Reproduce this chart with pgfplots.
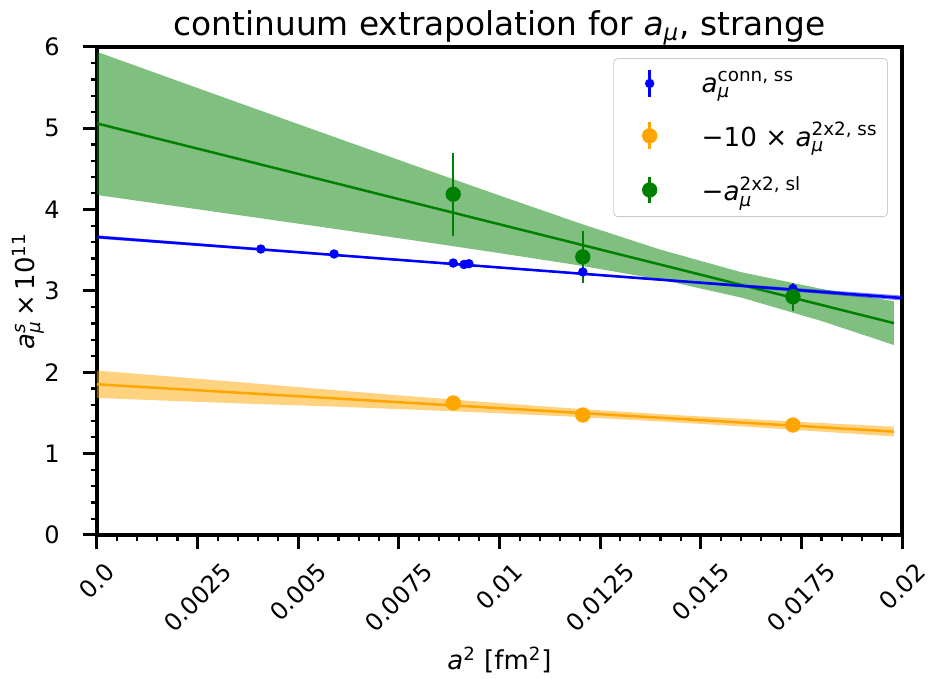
\documentclass[border=0pt]{standalone}
\usepackage{fontspec}
\setmainfont{DejaVu Sans}
\usepackage{amsmath}
\usepackage{graphicx}
\usepackage{pgfplots}
\pgfplotsset{compat=1.18}
\definecolor{mplblue}{HTML}{0000FF}
\definecolor{mplorange}{HTML}{FFA500}
\definecolor{mplgreen}{HTML}{008000}
\newcommand{\am}{\textit{a}}
\newcommand{\mus}{\text{\itshape μ}}
\newcommand{\rl}[1]{\rotatebox{45}{#1}}
\pgfplotsset{
  fitline/.style={line width=1.25pt},
  band/.style={draw=none, fill opacity=0.5},
  pts/.style={only marks, mark=*, line width=1.25pt,
    error bars/y dir=both, error bars/y explicit, error bars/error mark=none,
    error bars/error bar style={line width=1.25pt}},
  errleg/.style 2 args={legend image code/.code={
    \path[draw=none] (0,0) -- (39pt,0);
    \draw[#1, line width=1.25pt] (15pt,-6.7pt) -- (15pt,6.7pt);
    \fill[#1] (15pt,0) circle (#2);}},
}
\begin{document}
\begin{tikzpicture}
\useasboundingbox (-48.5pt,-72pt) rectangle (415.5pt,267.5pt);
\begin{axis}[
  at={(0,0)}, anchor=south west,
  width=402.5pt, height=244pt, scale only axis,
  xmin=0, xmax=0.02, ymin=0, ymax=6,
  axis line style={line width=1.6pt},
  tick align=outside, xtick pos=left, ytick pos=left,
  major tick length=7pt, minor tick length=3.2pt,
  every major tick/.append style={line width=1.5pt, black},
  every minor tick/.append style={line width=1.1pt, black},
  xtick={0,0.0025,0.005,0.0075,0.01,0.0125,0.015,0.0175,0.02},
  xticklabels={\rl{0.0},\rl{0.0025},\rl{0.005},\rl{0.0075},\rl{0.01},\rl{0.0125},\rl{0.015},\rl{0.0175},\rl{0.02}},
  minor x tick num=4,
  ytick={0,1,2,3,4,5,6},
  yticklabels={0,1,2,3,4,5,6},
  minor y tick num=4,
  scaled x ticks=false,
  tick label style={font=\fontsize{12}{14}\selectfont},
  xticklabel style={anchor=north, inner sep=0pt, yshift=-6pt},
  yticklabel style={anchor=east, inner sep=0pt, xshift=-11.5pt},
  label style={font=\fontsize{13}{15}\selectfont},
  xlabel={\am$^{\text{2}}$ [fm$^{\text{2}}$]},
  xlabel style={at={(axis description cs:0.5,0)}, anchor=center, inner sep=0pt, yshift=-62.5pt},
  ylabel={\am$^{\text{\itshape s}}_{\mus}$\,×\,10$^{\text{11}}$},
  ylabel style={at={(axis description cs:0,0.5)}, anchor=center, inner sep=0pt, rotate=0, yshift=34.5pt},
  title={continuum extrapolation for \am$_{\mus}$, strange},
  title style={at={(axis description cs:0.5,1)}, anchor=south, inner sep=0pt, yshift=-5.5pt,
    font=\fontsize{16.4}{19}\selectfont},
  legend style={at={(0.9826,0.977)}, anchor=north east, draw=black!20,
    rounded corners=2pt, font=\fontsize{13.1}{16}\selectfont,
    row sep=9.5pt, inner xsep=3pt, inner ysep=4.5pt},
  legend cell align=left,
]
% bands
\addplot[band, fill=mplgreen, forget plot] coordinates {
(0,5.940) (0.002,5.584) (0.004,5.229) (0.006,4.875) (0.008,4.523) (0.010,4.174)
(0.012,3.831) (0.014,3.508) (0.016,3.232) (0.018,3.026) (0.0198,2.874)
(0.0198,2.336) (0.018,2.631) (0.016,2.920) (0.014,3.140) (0.012,3.313)
(0.010,3.466) (0.008,3.613) (0.006,3.757) (0.004,3.899) (0.002,4.040) (0,4.180)
} -- cycle;
\addplot[band, fill=mplorange, forget plot] coordinates {
(0,2.021) (0.002,1.942) (0.004,1.860) (0.006,1.777) (0.008,1.698) (0.010,1.621)
(0.012,1.550) (0.014,1.486) (0.016,1.430) (0.018,1.377) (0.0198,1.331)
(0.0198,1.211) (0.018,1.271) (0.016,1.336) (0.014,1.396) (0.012,1.450)
(0.010,1.497) (0.008,1.538) (0.006,1.577) (0.004,1.610) (0.002,1.646) (0,1.685)
} -- cycle;
\addplot[band, fill=mplblue, forget plot] coordinates {
(0,3.685) (0.005,3.491) (0.010,3.301) (0.015,3.117) (0.020,2.944)
(0.020,2.884) (0.015,3.087) (0.010,3.277) (0.005,3.463) (0,3.643)
} -- cycle;
% fit lines
\addplot[fitline, mplorange, forget plot] coordinates {(0,1.853) (0.0198,1.271)};
\addplot[fitline, mplgreen, forget plot] coordinates {(0,5.060) (0.0198,2.605)};
\addplot[fitline, mplblue, forget plot] coordinates {(0,3.664) (0.020,2.914)};
% data
\addplot[pts, mplblue, mark size=1.7pt, errleg={mplblue}{1.7pt}]
  coordinates {
  (0.00407,3.516) +- (0,0.012)
  (0.00589,3.455) +- (0,0.010)
  (0.00885,3.344) +- (0,0.010)
  (0.00912,3.326) +- (0,0.010)
  (0.00924,3.335) +- (0,0.010)
  (0.01207,3.234) +- (0,0.012)
  (0.01729,3.030) +- (0,0.030)
};
\addlegendentry{\am$^{\text{conn, ss}}_{\mus}$}
\addplot[pts, mplorange, mark size=3.2pt, errleg={mplorange}{3.2pt}]
  coordinates {
  (0.00885,1.623) +- (0,0.040)
  (0.01207,1.475) +- (0,0.030)
  (0.01729,1.352) +- (0,0.030)
};
\addlegendentry{−10 × \am$^{\text{2x2, ss}}_{\mus}$}
\addplot[pts, mplgreen, mark size=3.2pt, errleg={mplgreen}{3.2pt}]
  coordinates {
  (0.00885,4.190) +- (0,0.510)
  (0.01207,3.420) +- (0,0.320)
  (0.01729,2.930) +- (0,0.170)
};
\addlegendentry{−\am$^{\text{2x2, sl}}_{\mus}$}
\end{axis}
\end{tikzpicture}
\end{document}
